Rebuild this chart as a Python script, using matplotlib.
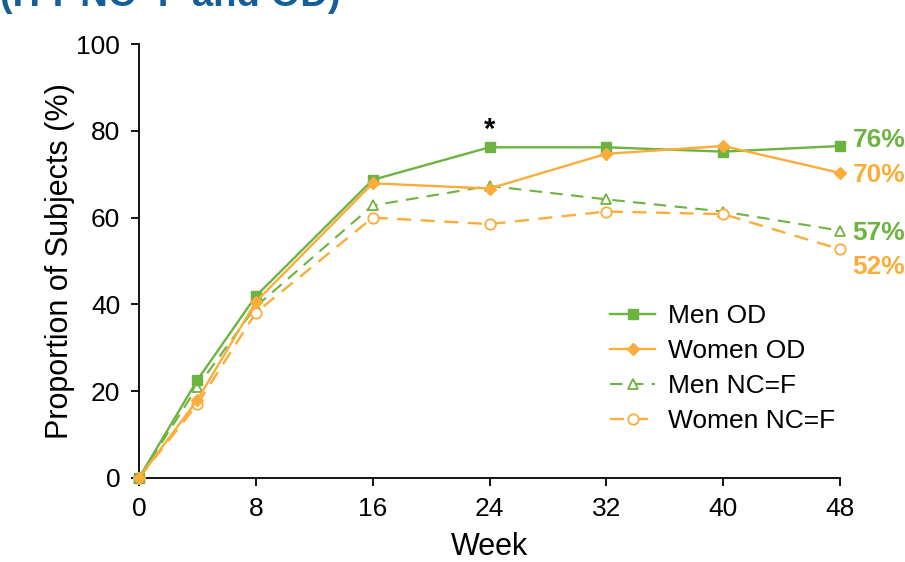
import matplotlib.pyplot as plt

plt.rcParams["font.family"] = ["Liberation Sans", "DejaVu Sans"]

# Data
weeks = [0, 4, 8, 16, 24, 32, 40, 48]
men_od = [0, 22.6, 41.9, 68.7, 76.2, 76.2, 75.2, 76.5]
women_od = [0, 18.0, 40.6, 67.9, 66.7, 74.7, 76.5, 70.3]
men_ncf = [0, 21.0, 39.5, 62.8, 67.3, 64.2, 61.4, 57.0]
women_ncf = [0, 17.0, 38.1, 60.0, 58.5, 61.4, 60.8, 52.7]
end_labels = ["76%", "70%", "57%", "52%"]
end_label_y = [77.9, 69.8, 56.5, 48.6]

green = "#6db33f"
orange = "#fbad3c"

fig = plt.figure(figsize=(9.05, 5.62), dpi=100)
ax = fig.add_axes([0.1536, 0.1495, 0.7746, 0.7722])

ax.plot(weeks, men_od, color=green, lw=1.7, marker="s", ms=7.5, label="Men OD", zorder=4)
ax.plot(weeks, women_od, color=orange, lw=1.7, marker="D", ms=6.5, label="Women OD", zorder=4)
ax.plot(weeks, men_ncf, color=green, lw=1.5, ls=(0, (6, 4)), marker="^", ms=7.5,
        mfc="white", mew=1.3, label="Men NC=F", zorder=3)
ax.plot(weeks, women_ncf, color=orange, lw=1.7, ls=(0, (6, 4)), marker="o", ms=7.5,
        mfc="white", mew=1.3, label="Women NC=F", zorder=3)

# End-of-study percentages
for txt, yv, c in zip(end_labels, end_label_y, [green, orange, green, orange]):
    ax.text(48.85, yv, txt, color=c, fontsize=19, fontweight="bold", va="center", ha="left",
            clip_on=False)

ax.text(24, 80.3, "*", fontsize=21, fontweight="bold", ha="center", va="center")

ax.set_xlim(0, 48)
ax.set_ylim(0, 100)
ax.set_xticks([0, 8, 16, 24, 32, 40, 48])
ax.set_yticks([0, 20, 40, 60, 80, 100])
ax.tick_params(labelsize=19, length=5.5, width=1.3, direction="out", pad=8)
for s in ["top", "right"]:
    ax.spines[s].set_visible(False)
for s in ["left", "bottom"]:
    ax.spines[s].set_linewidth(1.3)
ax.set_xlabel("Week", fontsize=22, labelpad=8)
ax.set_ylabel("Proportion of Subjects (%)", fontsize=22, labelpad=1)

for ln in ax.get_lines():
    ln.set_clip_on(False)

ax.legend(loc="upper left", bbox_to_anchor=(0.657, 0.425), frameon=False, fontsize=19,
          handlelength=1.7, handletextpad=0.5, labelspacing=0.42, borderaxespad=0)

# Partially cut-off title at top of the slide
fig.text(0.0, 1 - 6 / 562, "(ITT NC=F and OD)", color="#155e96", fontsize=27.5,
         fontweight="bold", ha="left", va="baseline")

fig.savefig("out.png", dpi=100)
